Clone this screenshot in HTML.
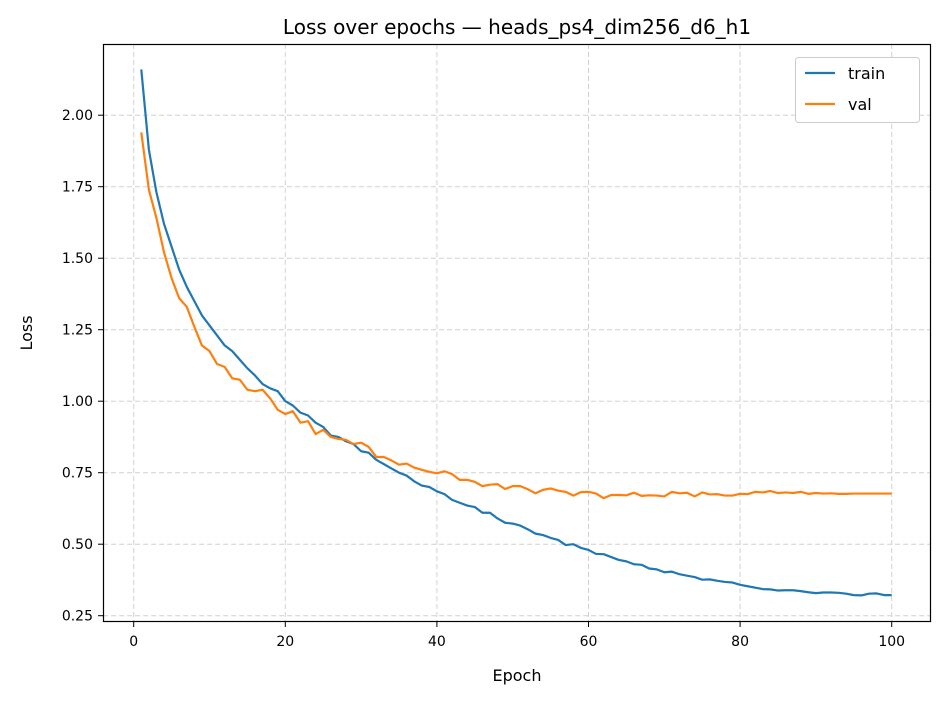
<!DOCTYPE html>
<html><head><meta charset="utf-8"><style>
body{margin:0;background:#fff}
svg text{font-family:"DejaVu Sans","Liberation Sans",sans-serif;fill:#000}
</style></head><body>
<svg id="chart" width="944" height="700" xmlns="http://www.w3.org/2000/svg">
<text x="517" y="34" font-size="20" text-anchor="middle">Loss over epochs — heads_ps4_dim256_d6_h1</text>
<g id="grid"></g><g id="ticks"></g><g id="series"></g>
<rect x="103.5" y="44.5" width="827" height="577" fill="none" stroke="#000" stroke-width="1.2"/>
<text x="517" y="681" font-size="16" text-anchor="middle">Epoch</text>
<text x="32" y="333" font-size="16" text-anchor="middle" transform="rotate(-90 32 333)">Loss</text>
<g>
<rect x="795.5" y="57.5" width="124" height="65" rx="3" fill="#fff" stroke="#ccc"/>
<line x1="805" y1="73" x2="835" y2="73" stroke="#1f77b4" stroke-width="2.2"/>
<text x="848" y="79" font-size="16">train</text>
<line x1="805" y1="104" x2="835" y2="104" stroke="#ff7f0e" stroke-width="2.2"/>
<text x="848" y="110" font-size="16">val</text>
</g>
</svg>
<script>
const xTicks=[0,20,40,60,80,100];
const yTicks=[0.25,0.5,0.75,1.0,1.25,1.5,1.75,2.0];
const yTickLabels=["0.25","0.50","0.75","1.00","1.25","1.50","1.75","2.00"];
const train=[2.16,1.88,1.73,1.62,1.54,1.46,1.40,1.35,1.30,1.265,1.23,1.195,1.175,1.145,1.115,1.09,1.06,1.045,1.035,1.00,0.985,0.96,0.95,0.925,0.91,0.88,0.875,0.86,0.85,0.825,0.82,0.795,0.78,0.765,0.75,0.74,0.72,0.705,0.70,0.685,0.675,0.655,0.645,0.635,0.63,0.61,0.61,0.59,0.575,0.572,0.565,0.552,0.537,0.532,0.522,0.515,0.497,0.50,0.487,0.48,0.466,0.465,0.455,0.445,0.44,0.43,0.428,0.415,0.412,0.402,0.404,0.395,0.39,0.385,0.376,0.377,0.372,0.368,0.366,0.358,0.353,0.348,0.343,0.342,0.338,0.339,0.339,0.336,0.332,0.329,0.331,0.331,0.330,0.327,0.322,0.321,0.327,0.328,0.322,0.322];
const val=[1.94,1.74,1.64,1.52,1.43,1.36,1.33,1.26,1.195,1.175,1.13,1.12,1.08,1.075,1.04,1.035,1.04,1.01,0.97,0.955,0.965,0.925,0.93,0.885,0.9,0.875,0.868,0.865,0.85,0.855,0.84,0.805,0.805,0.793,0.778,0.782,0.768,0.76,0.753,0.748,0.755,0.745,0.725,0.725,0.718,0.703,0.708,0.71,0.693,0.703,0.703,0.692,0.678,0.69,0.695,0.687,0.683,0.67,0.682,0.683,0.677,0.661,0.672,0.672,0.671,0.68,0.669,0.671,0.670,0.667,0.683,0.678,0.680,0.667,0.681,0.674,0.675,0.670,0.670,0.676,0.675,0.683,0.681,0.686,0.679,0.681,0.679,0.683,0.676,0.679,0.677,0.678,0.676,0.676,0.677,0.677,0.677,0.677,0.677,0.677];
const NS="http://www.w3.org/2000/svg";
const X=v=>133.7+v*7.58;
const Y=v=>615.7-(v-0.25)*286;
function mk(tag,attrs,parent){const e=document.createElementNS(NS,tag);for(const k in attrs)e.setAttribute(k,attrs[k]);parent.appendChild(e);return e;}
const grid=document.getElementById('grid'),ticks=document.getElementById('ticks'),series=document.getElementById('series');
xTicks.forEach(t=>{
  const g=mk('line',{x1:X(t),x2:X(t),y1:44,y2:622,stroke:'#d0d0d0','stroke-dasharray':'5,3','stroke-width':1},grid);
  
  
  mk('line',{x1:X(t),x2:X(t),y1:622,y2:627,stroke:'#000'},ticks);
  const tx=mk('text',{x:X(t),y:646,'font-size':14,'text-anchor':'middle'},ticks);
  tx.textContent=t;
  
  
});
yTicks.forEach((t,i)=>{
  const g=mk('line',{x1:103,x2:931,y1:Y(t),y2:Y(t),stroke:'#d0d0d0','stroke-dasharray':'5,3','stroke-width':1},grid);
  
  
  mk('line',{x1:98,x2:103,y1:Y(t),y2:Y(t),stroke:'#000'},ticks);
  const tx=mk('text',{x:93,y:Y(t)+5,'font-size':14,'text-anchor':'end'},ticks);
  tx.textContent=yTickLabels[i];
  
  
});
function line(data,color,name){
  const p=mk('polyline',{points:data.map((v,i)=>X(i+1)+','+Y(v)).join(' '),fill:'none',stroke:color,'stroke-width':2.2,'stroke-linejoin':'round'},series);
  
  
}
line(train,'#1f77b4','train-line');
line(val,'#ff7f0e','val-line');
</script>
</body></html>
